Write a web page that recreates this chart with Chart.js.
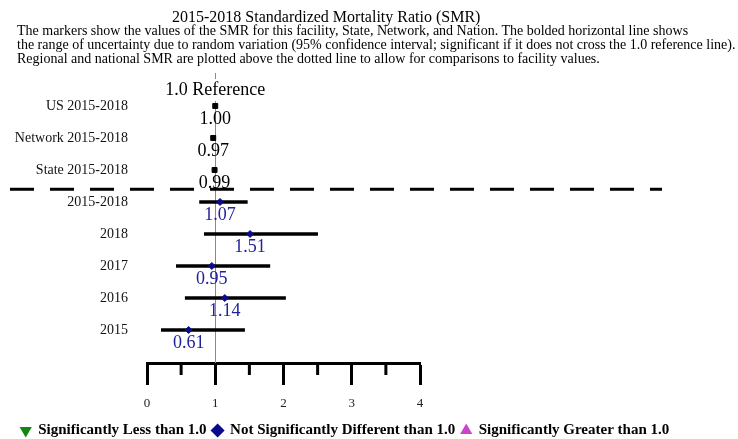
<!DOCTYPE html>
<html>
<head>
<meta charset="utf-8">
<title>2015-2018 SMR</title>
<script src="https://cdn.jsdelivr.net/npm/chart.js@4.4.1/dist/chart.umd.min.js"></script>
<style>
  html, body { margin: 0; padding: 0; background: #fff; }
  #wrap { position: relative; width: 738px; height: 439px; }
  #smrChart { position: absolute; left: 0; top: 0; }
  .serif { font-family: "Liberation Serif", "Times New Roman", serif; color: #000; }
  #title { position: absolute; left: 172px; top: 8px; font-size: 16px; line-height: 18px; white-space: nowrap; }
  #desc { position: absolute; left: 17px; top: 24px; font-size: 14px; line-height: 14px; white-space: nowrap; }
</style>
</head>
<body>
<div id="wrap">
  <canvas id="smrChart" width="738" height="439"></canvas>
  <div id="title" class="serif">2015-2018 Standardized Mortality Ratio (SMR)</div>
  <div id="desc" class="serif">
    The markers show the values of the SMR for this facility, State, Network, and Nation. The bolded horizontal line shows<br>
    the range of uncertainty due to random variation (95% confidence interval; significant if it does not cross the 1.0 reference line).<br>
    Regional and national SMR are plotted above the dotted line to allow for comparisons to facility values.
  </div>
</div>
<script>
// ---- データ ----
const rowLabels = ["US 2015-2018", "Network 2015-2018", "State 2015-2018", "2015-2018", "2018", "2017", "2016", "2015"];
const smrValues = [1.00, 0.97, 0.99, 1.07, 1.51, 0.95, 1.14, 0.61];
const ciLower   = [0.99, 0.96, 0.98, 0.77, 0.84, 0.43, 0.56, 0.21];
const ciUpper   = [1.01, 0.98, 1.00, 1.47, 2.50, 1.80, 2.03, 1.43];
const xTickValues = [0, 1, 2, 3, 4];
const xMinorTicks = [0.5, 1.5, 2.5, 3.5];
const referenceValue = 1.0;
const legendLabels = ["Significantly Less than 1.0", "Not Significantly Different than 1.0", "Significantly Greater than 1.0"];

// ---- 見た目 ----
const SERIF = '"Liberation Serif", "Times New Roman", serif';
const NAVY = "#0a0a8c";
const LABEL_BLUE = "#22229a";
const regionalRows = 3; // 上3行は地域・全国
const isRegional = i => i < regionalRows;

Chart.defaults.font.family = SERIF;

// 参照線・破線・値ラベルなど
const smrExtras = {
  id: "smrExtras",
  beforeDatasetsDraw(chart) {
    const { ctx, chartArea, scales: { x, y } } = chart;
    ctx.save();
    // 1.0 参照線
    const rx = Math.round(x.getPixelForValue(referenceValue)) + 0.5;
    ctx.strokeStyle = "#8a8a8a";
    ctx.lineWidth = 1;
    ctx.beginPath();
    ctx.moveTo(rx, chartArea.top);
    ctx.lineTo(rx, chartArea.bottom);
    ctx.stroke();

    // 地域/施設の区切り（破線）
    const dy = y.getPixelForValue(regionalRows - 0.4);
    ctx.strokeStyle = "#000";
    ctx.lineWidth = 3;
    ctx.setLineDash([24, 16]);
    ctx.beginPath();
    ctx.moveTo(10, dy);
    ctx.lineTo(662, dy);
    ctx.stroke();
    ctx.setLineDash([]);

    // 補助目盛り
    ctx.lineWidth = 3;
    xMinorTicks.forEach(v => {
      const px = x.getPixelForValue(v);
      ctx.beginPath();
      ctx.moveTo(px, chartArea.bottom);
      ctx.lineTo(px, chartArea.bottom + 12);
      ctx.stroke();
    });
    ctx.restore();
  },
  afterDatasetsDraw(chart) {
    const { ctx, chartArea, scales: { x, y } } = chart;
    ctx.save();
    ctx.textAlign = "center";
    ctx.textBaseline = "middle";
    ctx.font = `18px ${SERIF}`;
    smrValues.forEach((v, i) => {
      ctx.fillStyle = isRegional(i) ? "#000" : LABEL_BLUE;
      ctx.fillText(v.toFixed(2), x.getPixelForValue(v), y.getPixelForValue(i) + 13);
    });

    // "1.0 Reference" ラベル
    const rx = x.getPixelForValue(referenceValue);
    const txt = "1.0 Reference";
    const w = ctx.measureText(txt).width;
    ctx.fillStyle = "#fff";
    ctx.fillRect(rx - w / 2 - 2, chartArea.top + 6, w + 4, 22);
    ctx.fillStyle = "#000";
    ctx.fillText(txt, rx, chartArea.top + 17);
    ctx.restore();
  }
};

const ciData = rowLabels.map((_, i) => ({ y: i, x: [ciLower[i], ciUpper[i]] }));
const pointData = rowLabels.map((_, i) => ({ x: smrValues[i], y: i }));

new Chart(document.getElementById("smrChart"), {
  type: "bar",
  data: {
    datasets: [
      {
        type: "scatter",
        label: "SMR",
        data: pointData,
        order: 1,
        pointStyle: rowLabels.map((_, i) => isRegional(i) ? "rect" : "rectRot"),
        pointRadius: rowLabels.map((_, i) => isRegional(i) ? 3.5 : 3.5),
        pointBackgroundColor: rowLabels.map((_, i) => isRegional(i) ? "#000" : NAVY),
        pointBorderColor: rowLabels.map((_, i) => isRegional(i) ? "#000" : NAVY),
        pointBorderWidth: 1
      },
      {
        type: "bar",
        label: "95% CI",
        data: ciData,
        order: 2,
        indexAxis: "y",
        barThickness: 3,
        backgroundColor: "#000",
        borderWidth: 0
      }
    ]
  },
  options: {
    responsive: false,
    animation: false,
    indexAxis: "y",
    layout: { padding: { top: 73, left: 0, right: 48, bottom: -9 } },
    scales: {
      x: {
        type: "linear",
        min: 0,
        max: 4,
        offset: false,
        position: "bottom",
        afterBuildTicks: s => { s.ticks = xTickValues.map(v => ({ value: v })); },
        afterFit: s => { s.height = 54; },
        ticks: { color: "#222", font: { size: 13 }, padding: 11, maxRotation: 0 },
        grid: { display: true, drawOnChartArea: false, drawTicks: true, tickLength: 22, tickWidth: 3, tickColor: "#000" },
        border: { display: true, color: "#000", width: 3 }
      },
      y: {
        type: "linear",
        reverse: true,
        min: -1.03,
        max: 8.03,
        offset: false,
        position: "left",
        afterBuildTicks: s => { s.ticks = rowLabels.map((_, i) => ({ value: i })); },
        afterFit: s => { s.width = 147; },
        ticks: { color: "#111", font: { size: 14 }, padding: 19, callback: v => rowLabels[v] ?? "" },
        grid: { display: false, drawTicks: false, offset: false },
        border: { display: false }
      },
      yRight: {
        type: "linear",
        position: "right",
        display: true,
        afterFit: s => { s.width = 270; },
        ticks: { display: false },
        grid: { display: false, drawTicks: false },
        border: { display: false }
      }
    },
    plugins: {
      tooltip: { enabled: false },
      legend: {
        position: "bottom",
        onClick: null,
        labels: {
          usePointStyle: true,
          boxWidth: 10,
          boxHeight: 10,
          padding: 6,
          color: "#000",
          font: { size: 15, weight: "bold" },
          generateLabels: () => legendLabels.map((t, i) => ({
            text: t,
            fillStyle: ["#118811", "#0a0a8c", "#cc44cc"][i],
            strokeStyle: ["#118811", "#0a0a8c", "#cc44cc"][i],
            pointStyle: ["triangle", "rectRot", "triangle"][i],
            rotation: [180, 0, 0][i],
            lineWidth: 0,
            hidden: false,
            datasetIndex: i
          }))
        }
      }
    }
  },
  plugins: [smrExtras]
});
</script>
</body>
</html>
